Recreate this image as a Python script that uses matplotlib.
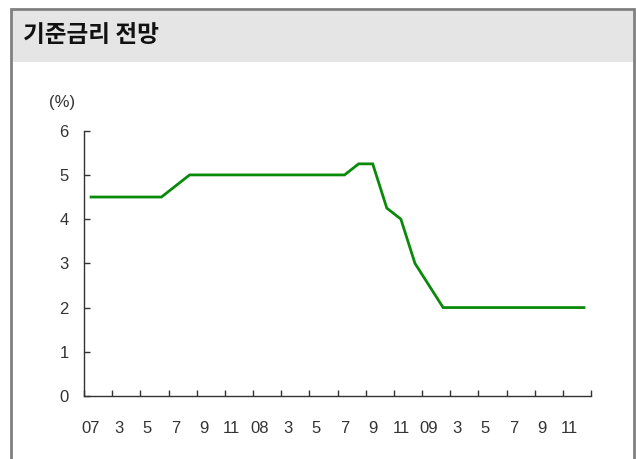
import matplotlib
matplotlib.use("Agg")
import matplotlib.pyplot as plt
from matplotlib.patches import Rectangle

# monthly base rate, Jan 2007 - Dec 2009
rates = [4.5, 4.5, 4.5, 4.5, 4.5, 4.5, 4.75, 5.0, 5.0, 5.0, 5.0, 5.0,
         5.0, 5.0, 5.0, 5.0, 5.0, 5.0, 5.0, 5.25, 5.25, 4.25, 4.0, 3.0,
         2.5, 2.0, 2.0, 2.0, 2.0, 2.0, 2.0, 2.0, 2.0, 2.0, 2.0, 2.0]
month_labels = ["07", "3", "5", "7", "9", "11",
                "08", "3", "5", "7", "9", "11",
                "09", "3", "5", "7", "9", "11"]
y_ticks = [0, 1, 2, 3, 4, 5, 6]
title = "기준금리 전망"

W, H = 637, 459
fig = plt.figure(figsize=(W / 100, H / 100), dpi=100)

# frame and header bar (pixel coords -> figure fraction)
def fx(px):
    return px / W
def fy(py):
    return 1 - py / H

fig.patches.append(Rectangle((fx(12), fy(62)), fx(621), (62 - 10) / H,
                             transform=fig.transFigure, facecolor="#e5e5e5",
                             edgecolor="none", zorder=0))
fig.patches.append(Rectangle((fx(11), fy(500)), fx(623), (500 - 9) / H,
                             transform=fig.transFigure, facecolor="none",
                             edgecolor="#808080", linewidth=2.0, zorder=1))
fig.text(fx(23), fy(35), title, fontsize=17, fontweight="bold",
         family=["Noto Sans CJK KR", "DejaVu Sans"], color="#111111",
         va="center", ha="left")

ax = fig.add_axes([fx(84), fy(396), 507 / W, 265.3 / H])
x = list(range(len(rates)))
ax.plot(x, rates, color="#0a8a0a", linewidth=2.0, solid_joinstyle="miter")

ax.set_xlim(-0.5, len(rates) - 0.5)
ax.set_ylim(0, 6)
ax.set_yticks(y_ticks)
ax.set_xticks([i - 0.5 for i in range(0, len(rates) + 1, 2)])
ax.set_xticklabels([])
ax.set_xticks(list(range(0, len(rates), 2)), minor=True)
ax.set_xticklabels(month_labels, minor=True)

for s in ["top", "right"]:
    ax.spines[s].set_visible(False)
for s in ["left", "bottom"]:
    ax.spines[s].set_color("#333333")
    ax.spines[s].set_linewidth(1.0)

ax.tick_params(axis="both", which="major", direction="in", length=4.3,
               width=1.0, color="#333333")
ax.tick_params(axis="y", labelsize=12, labelcolor="#333333", pad=11)
ax.tick_params(axis="x", which="minor", length=0, labelsize=12,
               labelcolor="#333333", pad=18)
for lab in ax.get_yticklabels() + ax.get_xticklabels(minor=True):
    lab.set_family("Liberation Sans")

fig.text(fx(62), fy(103), "(%)", fontsize=12, color="#333333",
         family="Liberation Sans", ha="center", va="center")

fig.savefig("out.png", dpi=100)
